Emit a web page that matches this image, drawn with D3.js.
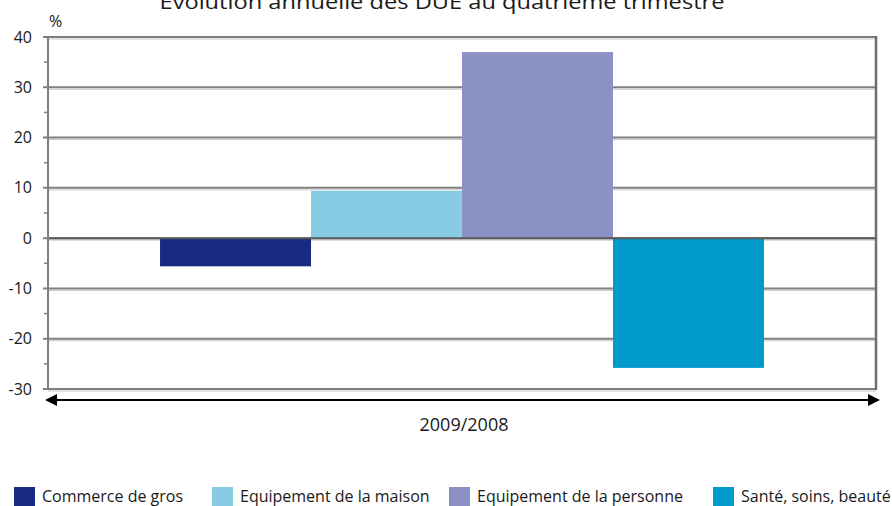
<!DOCTYPE html>
<html>
<head>
<meta charset="utf-8">
<script src="https://cdn.jsdelivr.net/npm/d3@7"></script>
<style>
  body { margin: 0; background: #fff; }
  text { font-family: "Open Sans", "DejaVu Sans", sans-serif; fill: #1a1a1a; }
</style>
</head>
<body>
<svg width="892" height="506"></svg>
<script>
// data
const categories = ["Commerce de gros", "Equipement de la maison", "Equipement de la personne", "Santé, soins, beauté"];
const values = [-5.6, 9.4, 37.0, -25.8];
const colors = ["#182a84", "#87cce3", "#8b91c4", "#009bcb"];
const yTicks = [40, 30, 20, 10, 0, -10, -20, -30];
const minorTicks = [35, 25, 15, 5, -5, -15, -25];
const periodLabel = "2009/2008";
const title = "Evolution annuelle des DUE au quatrième trimestre";

const svg = d3.select("svg");
const svgWidth = 892;

const plotLeft = 48, plotRight = 876, plotTop = 37, plotBottom = 389;

const x = d3.scaleBand()
    .domain(categories)
    .range([plotLeft, plotRight])
    .paddingInner(0)
    .paddingOuter(0.742);

const y = d3.scaleLinear()
    .domain([-30, 40])
    .range([plotBottom, plotTop]);

// title (cut at top like the original)
svg.append("text")
    .attr("x", 442)
    .attr("y", 9)
    .attr("text-anchor", "middle")
    .attr("font-size", "20px")
    .attr("textLength", 565)
    .attr("lengthAdjust", "spacingAndGlyphs")
    .text(title);

svg.append("text")
    .attr("x", 49)
    .attr("y", 27)
    .attr("font-size", "16px")
    .text("%");

// gridlines
const grid = svg.append("g");
grid.selectAll("line.shadow")
    .data(yTicks)
    .enter().append("line")
    .attr("class", "shadow")
    .attr("x1", plotLeft).attr("x2", plotRight)
    .attr("y1", d => y(d) + 2).attr("y2", d => y(d) + 2)
    .attr("stroke", "#c8c8c8")
    .attr("stroke-width", 1);
grid.selectAll("line.main")
    .data(yTicks)
    .enter().append("line")
    .attr("class", "main")
    .attr("x1", plotLeft - 5).attr("x2", plotRight)
    .attr("y1", d => y(d)).attr("y2", d => y(d))
    .attr("stroke", "#7f7f7f")
    .attr("stroke-width", 2);

// bars
svg.append("g").selectAll("rect")
    .data(categories)
    .enter().append("rect")
    .attr("x", d => x(d))
    .attr("width", x.bandwidth())
    .attr("y", (d, i) => y(Math.max(0, values[i])))
    .attr("height", (d, i) => Math.abs(y(values[i]) - y(0)))
    .attr("fill", (d, i) => colors[i]);

// zero line on top
svg.append("line")
    .attr("x1", plotLeft).attr("x2", plotRight)
    .attr("y1", y(0)).attr("y2", y(0))
    .attr("stroke", "#5a5a5a")
    .attr("stroke-width", 2);

// left axis + right border
svg.append("line")
    .attr("x1", plotLeft).attr("x2", plotLeft)
    .attr("y1", plotTop).attr("y2", plotBottom + 1)
    .attr("stroke", "#7f7f7f").attr("stroke-width", 2);
svg.append("line")
    .attr("x1", plotRight).attr("x2", plotRight)
    .attr("y1", plotTop - 1).attr("y2", plotBottom + 1)
    .attr("stroke", "#6e6e6e").attr("stroke-width", 2.5);

// minor ticks
svg.append("g").selectAll("line")
    .data(minorTicks)
    .enter().append("line")
    .attr("x1", plotLeft - 4).attr("x2", plotLeft)
    .attr("y1", d => y(d)).attr("y2", d => y(d))
    .attr("stroke", "#7f7f7f")
    .attr("stroke-width", 1.5);

// tick labels
svg.append("g").selectAll("text")
    .data(yTicks)
    .enter().append("text")
    .attr("x", 32)
    .attr("y", d => y(d))
    .attr("dy", "0.35em")
    .attr("text-anchor", "end")
    .attr("font-size", "16px")
    .text(d => d);

// double arrow
const ay = 400;
svg.append("line")
    .attr("x1", 52).attr("x2", 873)
    .attr("y1", ay).attr("y2", ay)
    .attr("stroke", "#000").attr("stroke-width", 2);
svg.append("path")
    .attr("d", `M45,${ay} L57,${ay - 6} L57,${ay + 6} Z`)
    .attr("fill", "#000");
svg.append("path")
    .attr("d", `M880,${ay} L868,${ay - 6} L868,${ay + 6} Z`)
    .attr("fill", "#000");

svg.append("text")
    .attr("x", 464)
    .attr("y", 431)
    .attr("text-anchor", "middle")
    .attr("font-size", "18px")
    .text(periodLabel);

// legend
const legendX = [14, 212, 449, 713];
const lg = svg.append("g").selectAll("g")
    .data(categories)
    .enter().append("g")
    .attr("transform", (d, i) => `translate(${legendX[i]}, 487)`);
lg.append("rect")
    .attr("width", 21).attr("height", 20)
    .attr("fill", (d, i) => colors[i]);
lg.append("text")
    .attr("x", 28)
    .attr("y", 15)
    .attr("font-size", "16px")
    .text(d => d)
    .each(function(d, i) {
        // squeeze the last label so it stays inside the picture
        const room = svgWidth - 1 - (legendX[i] + 28);
        if (this.getComputedTextLength() > room) {
            d3.select(this)
                .attr("textLength", room)
                .attr("lengthAdjust", "spacingAndGlyphs");
        }
    });
</script>
</body>
</html>
